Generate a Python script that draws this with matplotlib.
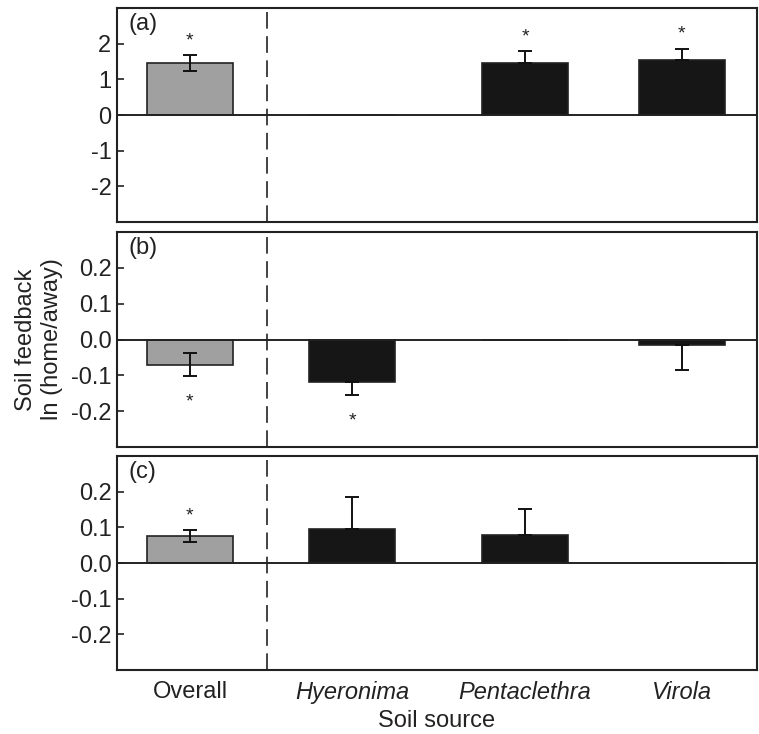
"""Soil feedback bar panels (a)-(c) by soil source."""

import matplotlib
matplotlib.use('Agg')
import matplotlib.pyplot as plt
import numpy as np

plt.rcParams['font.family'] = ['Liberation Sans', 'DejaVu Sans']

# Data
sources = ['Overall', 'Hyeronima', 'Pentaclethra', 'Virola']
italic = [False, True, True, True]

a_mean = [1.46, np.nan, 1.47, 1.54]
a_se = [0.23, np.nan, 0.32, 0.32]
a_sig = [True, False, True, True]

b_mean = [-0.070, -0.118, np.nan, -0.015]
b_se = [0.031, 0.036, np.nan, 0.070]
b_sig = [True, True, False, False]

c_mean = [0.075, 0.094, 0.078, np.nan]
c_se = [0.017, 0.090, 0.073, np.nan]
c_sig = [True, False, False, False]

panels = [
    ('(a)', a_mean, a_se, a_sig, 3.0, [-2, -1, 0, 1, 2], '%d'),
    ('(b)', b_mean, b_se, b_sig, 0.3, [-0.2, -0.1, 0.0, 0.1, 0.2], '%.1f'),
    ('(c)', c_mean, c_se, c_sig, 0.3, [-0.2, -0.1, 0.0, 0.1, 0.2], '%.1f'),
]

# Layout
xpos = np.array([0.456, 1.47, 2.55, 3.53])
bar_w = 0.54
divider_x = 0.94
colors = ['#a0a0a0', '#161616', '#161616', '#161616']
FS = 17

W, H = 759, 734
fig = plt.figure(figsize=(W / 100, H / 100), dpi=100)
left, width = 117 / W, 640 / W
rects = [(8, 222), (232, 447), (456, 670)]

axes = []
for (top, bot), (tag, mean, se, sig, lim, ticks, fmt) in zip(rects, panels):
    ax = fig.add_axes([left, 1 - bot / H, width, (bot - top) / H])
    axes.append(ax)
    mean = np.array(mean)
    se = np.array(se)

    ax.bar(xpos, np.nan_to_num(mean), width=bar_w, color=colors,
           edgecolor='#222222', linewidth=1.2, zorder=2)

    for i, (m, s) in enumerate(zip(mean, se)):
        if np.isnan(m):
            continue
        sign = 1 if m >= 0 else -1
        if i == 0:
            yerr = [[s], [s]]
        elif sign > 0:
            yerr = [[0], [s]]
        else:
            yerr = [[s], [0]]
        ax.errorbar(xpos[i], m, yerr=yerr, fmt='none', ecolor='#111111',
                    elinewidth=1.4, capsize=5, capthick=1.4, zorder=3)
        if sig[i]:
            end = m + sign * s
            off = 7 if sign > 0 else -22
            ax.annotate('*', (xpos[i], end), xytext=(0, off),
                        textcoords='offset points', ha='center',
                        va='baseline', fontsize=14, color='#222222')

    ax.axhline(0, color='#222222', lw=1.4, zorder=4)
    ax.axvline(divider_x, color='#222222', lw=1.2, dashes=(10, 4.5),
               zorder=1)

    ax.set_xlim(0, 4)
    ax.set_ylim(-lim, lim)
    ax.set_yticks(ticks)
    ax.set_yticklabels([fmt % t for t in ticks])
    ax.tick_params(axis='y', direction='in', length=5, width=1.2,
                   labelsize=FS, pad=4, colors='#222222')
    ax.tick_params(axis='x', length=0)
    for sp in ax.spines.values():
        sp.set_linewidth(1.5)
        sp.set_color('#222222')
    ax.text(0.018, 0.975, tag, transform=ax.transAxes, ha='left', va='top',
            fontsize=FS, color='#222222')

for ax in axes[:2]:
    ax.set_xticks([])

ax_c = axes[2]
ax_c.set_xticks(xpos)
ax_c.set_xticklabels(sources, fontsize=FS, color='#222222')
for lab, it in zip(ax_c.get_xticklabels(), italic):
    if it:
        lab.set_style('italic')
ax_c.tick_params(axis='x', pad=8)
ax_c.set_xlabel('Soil source', fontsize=FS, color='#222222', labelpad=4)

axes[1].set_ylabel('Soil feedback\nln (home/away)', fontsize=FS,
                   color='#222222', labelpad=6, linespacing=1.2)

fig.savefig('out.png', dpi=100)
